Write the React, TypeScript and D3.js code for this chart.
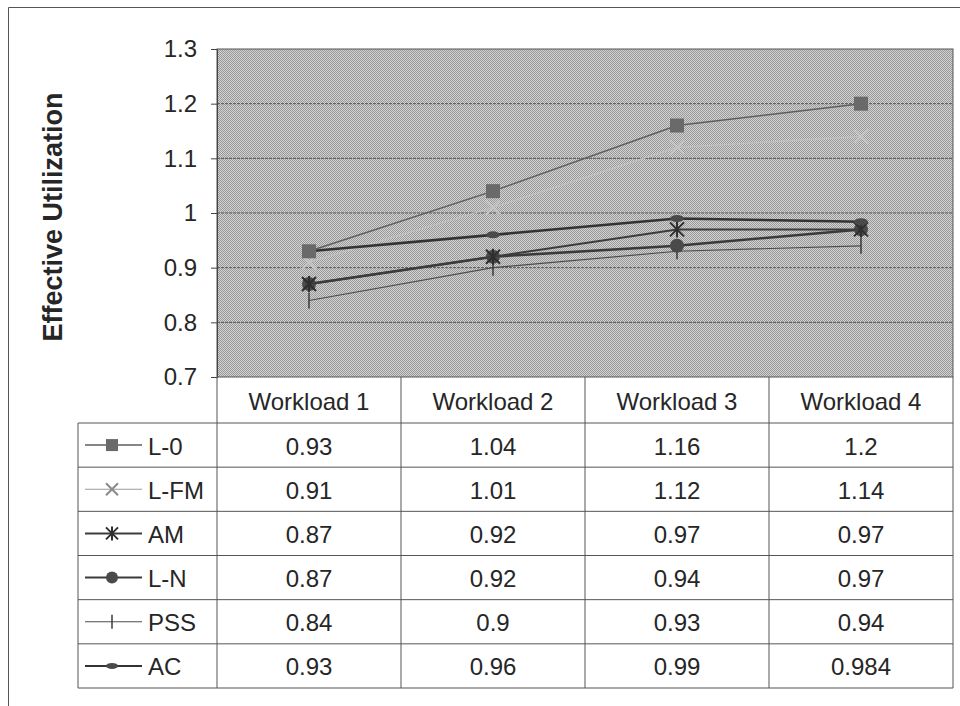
import * as d3 from "d3";
import { useRef, useEffect } from "react";

const categories = ["Workload 1", "Workload 2", "Workload 3", "Workload 4"];
const seriesNames = ["L-0", "L-FM", "AM", "L-N", "PSS", "AC"];
const valuesL0 = [0.93, 1.04, 1.16, 1.2];
const valuesLFM = [0.91, 1.01, 1.12, 1.14];
const valuesAM = [0.87, 0.92, 0.97, 0.97];
const valuesLN = [0.87, 0.92, 0.94, 0.97];
const valuesPSS = [0.84, 0.9, 0.93, 0.94];
const valuesAC = [0.93, 0.96, 0.99, 0.984];
const yTicks = [0.7, 0.8, 0.9, 1, 1.1, 1.2, 1.3];

const allValues = [valuesL0, valuesLFM, valuesAM, valuesLN, valuesPSS, valuesAC];

// look of each series (scanned b/w chart, L-FM nearly vanishes in the plot)
const styles = {
  "L-0": { stroke: "#5e5e5e", width: 1.5, marker: "square", fill: "#6a6a6a" },
  "L-FM": { stroke: "#c2c2c2", width: 1.2, marker: "x", fill: "#c4c4c4" },
  "AM": { stroke: "#3c3c3c", width: 2, marker: "star", fill: "#2e2e2e" },
  "L-N": { stroke: "#3a3a3a", width: 2.5, marker: "circle", fill: "#4a4a4a" },
  "PSS": { stroke: "#4c4c4c", width: 1.2, marker: "plus", fill: "#3a3a3a" },
  "AC": { stroke: "#333333", width: 2.6, marker: "oval", fill: "#4a4a4a" },
};

const width = 960;
const height = 706;
const font = "'Liberation Sans', Arial, Helvetica, sans-serif";
const ink = "#262626";

function drawMarker(g, type, cx, cy, fill, s) {
  if (type === "square") {
    g.append("rect")
      .attr("x", cx - s / 2)
      .attr("y", cy - s / 2)
      .attr("width", s)
      .attr("height", s)
      .attr("fill", fill);
  } else if (type === "circle") {
    g.append("circle").attr("cx", cx).attr("cy", cy).attr("r", s / 2).attr("fill", fill);
  } else if (type === "oval") {
    g.append("ellipse")
      .attr("cx", cx)
      .attr("cy", cy)
      .attr("rx", s / 2)
      .attr("ry", s / 4)
      .attr("fill", fill);
  } else {
    const h = s / 2;
    const p = d3.path();
    if (type === "x" || type === "star") {
      p.moveTo(cx - h, cy - h);
      p.lineTo(cx + h, cy + h);
      p.moveTo(cx + h, cy - h);
      p.lineTo(cx - h, cy + h);
    }
    if (type === "star" || type === "plus") {
      p.moveTo(cx, cy - h - 1);
      p.lineTo(cx, cy + h + 1);
    }
    g.append("path")
      .attr("d", p.toString())
      .attr("stroke", fill)
      .attr("stroke-width", type === "plus" ? 1.5 : 2)
      .attr("fill", "none");
  }
}

export default function App() {
  const ref = useRef(null);

  useEffect(() => {
    const svg = d3.select(ref.current);
    svg.selectAll("*").remove();

    const plotLeft = 217;
    const plotRight = 953;
    const plotTop = 49;
    const plotBottom = 377;
    const tableLeft = 78;
    const headerBottom = 423;
    const tableBottom = 688;

    const x = d3.scaleBand().domain(categories).range([plotLeft, plotRight]);
    const y = d3.scaleLinear().domain([0.7, 1.3]).range([plotBottom, plotTop]);
    const row = d3.scaleBand().domain(seriesNames).range([headerBottom, tableBottom]);

    // dithered grey like the scan
    const defs = svg.append("defs");
    const pat = defs
      .append("pattern")
      .attr("id", "dither")
      .attr("width", 2)
      .attr("height", 2)
      .attr("patternUnits", "userSpaceOnUse");
    pat.append("rect").attr("width", 2).attr("height", 2).attr("fill", "#d2d2d2");
    pat.append("rect").attr("width", 1).attr("height", 1).attr("fill", "#999");
    pat.append("rect").attr("x", 1).attr("y", 1).attr("width", 1).attr("height", 1).attr("fill", "#999");

    svg.append("rect").attr("width", width).attr("height", height).attr("fill", "#fff");

    // outer frame
    svg.append("path")
      .attr("d", `M8.5,${height} V7.5 H${width}`)
      .attr("fill", "none")
      .attr("stroke", "#555")
      .attr("stroke-width", 1);

    // plot area
    svg.append("rect")
      .attr("x", plotLeft)
      .attr("y", plotTop)
      .attr("width", plotRight - plotLeft)
      .attr("height", plotBottom - plotTop)
      .attr("fill", "url(#dither)")
      .attr("stroke", "#555")
      .attr("stroke-width", 1);

    // gridlines
    svg.append("g")
      .selectAll("line")
      .data(yTicks.slice(1, -1))
      .join("line")
      .attr("x1", plotLeft)
      .attr("x2", plotRight)
      .attr("y1", (d) => y(d))
      .attr("y2", (d) => y(d))
      .attr("stroke", "#555")
      .attr("stroke-width", 1)
      .attr("stroke-dasharray", "3,1");

    // y axis
    const yAxis = svg
      .append("g")
      .attr("transform", `translate(${plotLeft},0)`)
      .call(d3.axisLeft(y).tickValues(yTicks).tickSize(6).tickPadding(14).tickFormat(d3.format("")));
    yAxis.select(".domain").attr("stroke", "#444");
    yAxis.selectAll(".tick line").attr("stroke", "#444");
    yAxis.selectAll("text")
      .attr("font-family", font)
      .attr("font-size", 24)
      .attr("fill", ink);

    svg.append("text")
      .attr("transform", `translate(53,${(plotTop + plotBottom) / 2 + 4}) rotate(-90)`)
      .attr("text-anchor", "middle")
      .attr("dominant-baseline", "central")
      .attr("font-family", font)
      .attr("font-weight", "bold")
      .attr("font-size", 27)
      .attr("fill", ink)
      .text("Effective Utilization");

    // series
    const line = d3
      .line()
      .x((d, i) => x(categories[i]) + x.bandwidth() / 2)
      .y((d) => y(d));

    const order = [1, 4, 3, 2, 5, 0];
    order.forEach((si) => {
      const name = seriesNames[si];
      const st = styles[name];
      const g = svg.append("g");
      g.append("path")
        .attr("d", line(allValues[si]))
        .attr("fill", "none")
        .attr("stroke", st.stroke)
        .attr("stroke-width", st.width);
      allValues[si].forEach((v, i) => {
        drawMarker(g, st.marker, x(categories[i]) + x.bandwidth() / 2, y(v), st.fill, 14);
      });
    });

    // table
    const grid = svg.append("g").attr("stroke", "#555").attr("stroke-width", 1);
    grid.append("line")
      .attr("x1", tableLeft).attr("x2", plotRight)
      .attr("y1", headerBottom).attr("y2", headerBottom);
    seriesNames.forEach((n) => {
      grid.append("line")
        .attr("x1", tableLeft).attr("x2", plotRight)
        .attr("y1", row(n) + row.bandwidth()).attr("y2", row(n) + row.bandwidth());
    });
    grid.append("line")
      .attr("x1", tableLeft).attr("x2", tableLeft)
      .attr("y1", headerBottom).attr("y2", tableBottom);
    [plotLeft, ...categories.map((c) => x(c) + x.bandwidth())].forEach((xx) => {
      grid.append("line")
        .attr("x1", xx).attr("x2", xx)
        .attr("y1", plotBottom).attr("y2", tableBottom);
    });

    svg.append("g")
      .selectAll("text")
      .data(categories)
      .join("text")
      .attr("x", (d) => x(d) + x.bandwidth() / 2)
      .attr("y", (plotBottom + headerBottom) / 2 + 1)
      .attr("text-anchor", "middle")
      .attr("dominant-baseline", "central")
      .attr("font-family", font)
      .attr("font-size", 24)
      .attr("fill", ink)
      .text((d) => d);

    seriesNames.forEach((name, si) => {
      const st = styles[name];
      const cy = row(name) + row.bandwidth() / 2;
      const g = svg.append("g");
      g.append("line")
        .attr("x1", 85).attr("x2", 142)
        .attr("y1", cy).attr("y2", cy)
        .attr("stroke", name === "L-FM" ? "#9a9a9a" : st.stroke)
        .attr("stroke-width", Math.min(st.width, 2));
      drawMarker(g, st.marker, 112, cy, name === "L-FM" ? "#8a8a8a" : st.fill, 12);
      g.append("text")
        .attr("x", 148)
        .attr("y", cy + 1)
        .attr("dominant-baseline", "central")
        .attr("font-family", font)
        .attr("font-size", 24)
        .attr("fill", ink)
        .text(name);
      g.selectAll("text.val")
        .data(allValues[si])
        .join("text")
        .attr("class", "val")
        .attr("x", (d, i) => x(categories[i]) + x.bandwidth() / 2)
        .attr("y", cy + 1)
        .attr("text-anchor", "middle")
        .attr("dominant-baseline", "central")
        .attr("font-family", font)
        .attr("font-size", 24)
        .attr("fill", ink)
        .text((d) => `${d}`);
    });
  }, []);

  return (
    <svg
      ref={ref}
      width={width}
      height={height}
      viewBox={`0 0 ${width} ${height}`}
      style={{ position: "absolute", left: 0, top: 0, display: "block" }}
    ></svg>
  );
}
